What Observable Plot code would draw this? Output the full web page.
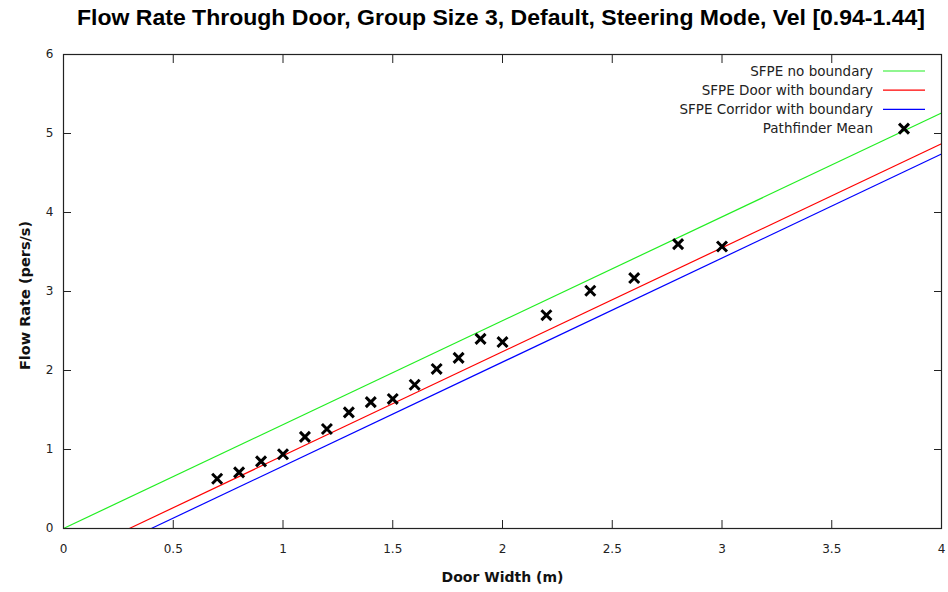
<!DOCTYPE html>
<html>
<head>
<meta charset="utf-8">
<script src="https://cdn.jsdelivr.net/npm/d3@7"></script>
<script src="https://cdn.jsdelivr.net/npm/@observablehq/plot@0.6"></script>
<style>
  html, body { margin: 0; padding: 0; background: #fff; }
  #wrap { position: relative; width: 948px; height: 592px; overflow: hidden; }
  #title { display: block; }
</style>
</head>
<body>
<div id="wrap">
  <svg id="title" width="948" height="36">
    <text x="501" y="25" text-anchor="middle" font-family="'Liberation Sans Narrow', 'Liberation Sans', Arial, sans-serif" font-weight="bold" font-size="22" fill="#000" textLength="848" lengthAdjust="spacingAndGlyphs">Flow Rate Through Door, Group Size 3, Default, Steering Mode, Vel [0.94-1.44]</text>
  </svg>
  <div id="chart"></div>
</div>
<script>
// ---- data ----
const doorWidth = [0.7, 0.8, 0.9, 1.0, 1.1, 1.2, 1.3, 1.4, 1.5, 1.6, 1.7, 1.8, 1.9, 2.0, 2.2, 2.4, 2.6, 2.8, 3.0];
const pathfinderMean = [0.63, 0.71, 0.85, 0.94, 1.16, 1.26, 1.47, 1.60, 1.64, 1.82, 2.02, 2.16, 2.40, 2.36, 2.70, 3.01, 3.17, 3.60, 3.57];

const lineNames = ["SFPE no boundary", "SFPE Door with boundary", "SFPE Corridor with boundary"];
const lineStartX = [0, 0.3, 0.4];
const lineStartY = [0, 0, 0];
const lineEndX = [4, 4, 4];
const lineEndY = [5.26, 4.87, 4.74];

const xTicks = [0, 0.5, 1, 1.5, 2, 2.5, 3, 3.5, 4];
const yTicks = [0, 1, 2, 3, 4, 5, 6];
const pointName = "Pathfinder Mean";

// ---- styles ----
const lineColors = ["#22ee22", "#ff0000", "#0000ff"];
const fontFam = "'DejaVu Sans', Verdana, sans-serif";

const points = doorWidth.map((x, i) => ({x, y: pathfinderMean[i]}));
const lines = lineNames.map((name, i) => ({
  name, x1: lineStartX[i], y1: lineStartY[i], x2: lineEndX[i], y2: lineEndY[i], color: lineColors[i]
}));

const fmt = d => String(d);

const plot = Plot.plot({
  width: 948,
  height: 556,
  marginTop: 18,
  marginBottom: 64,
  marginLeft: 63,
  marginRight: 7,
  style: {fontFamily: fontFam, fontSize: "12px", color: "#222", background: "#fff"},
  x: {domain: [0, 4]},
  y: {domain: [0, 6]},
  color: {type: "identity"},
  marks: [
    Plot.axisX(xTicks, {anchor: "bottom", tickSize: 0, tickPadding: 16, tickFormat: fmt, label: null, fill: "#222"}),
    Plot.axisX(xTicks, {anchor: "bottom", tickSize: -8, tickFormat: () => "", label: null, stroke: "#222"}),
    Plot.axisX(xTicks, {anchor: "top", tickSize: -8, tickFormat: () => "", label: null, stroke: "#222"}),
    Plot.axisY(yTicks, {anchor: "left", tickSize: 0, tickPadding: 10, tickFormat: fmt, label: null, fill: "#222"}),
    Plot.axisY(yTicks, {anchor: "left", tickSize: -8, tickFormat: () => "", label: null, stroke: "#222"}),
    Plot.axisY(yTicks, {anchor: "right", tickSize: -8, tickFormat: () => "", label: null, stroke: "#222"}),
    Plot.link(lines, {x1: "x1", y1: "y1", x2: "x2", y2: "y2", stroke: "color", strokeWidth: 1.2}),
    Plot.dot(points, {x: "x", y: "y", symbol: "times", r: 4.6, stroke: "#000", strokeWidth: 3}),
    Plot.frame({stroke: "#222", strokeWidth: 1.2}),
    Plot.text(["Door Width (m)"], {frameAnchor: "bottom", textAnchor: "middle", lineAnchor: "middle", dy: 49, fontWeight: "bold", fontSize: 14, fill: "#111"}),
    Plot.text(["Flow Rate (pers/s)"], {frameAnchor: "left", textAnchor: "middle", lineAnchor: "middle", dx: -38, dy: 4, rotate: -90, fontWeight: "bold", fontSize: 14.5, fill: "#111"})
  ]
});
document.getElementById("chart").appendChild(plot);

// ---- legend (inside plot, top-right) ----
const svg = d3.select(plot);
const lg = svg.append("g").attr("font-family", fontFam).attr("font-size", 13.5);
const legendItems = lineNames.map((n, i) => ({name: n, color: lineColors[i], type: "line"}))
  .concat([{name: pointName, type: "point"}]);
legendItems.forEach((d, i) => {
  const yy = 35 + i * 19.2;
  lg.append("text").attr("x", 873).attr("y", yy).attr("dy", "0.35em")
    .attr("text-anchor", "end").attr("fill", "#222").text(d.name);
  if (d.type === "line") {
    lg.append("line").attr("x1", 883).attr("x2", 925).attr("y1", yy).attr("y2", yy)
      .attr("stroke", d.color).attr("stroke-width", 1.2);
  } else {
    lg.append("path").attr("transform", `translate(904,${yy})`)
      .attr("d", d3.symbol(d3.symbolTimes, Math.PI * 4.6 * 4.6)())
      .attr("stroke", "#000").attr("stroke-width", 3).attr("fill", "none");
  }
});
</script>
</body>
</html>
